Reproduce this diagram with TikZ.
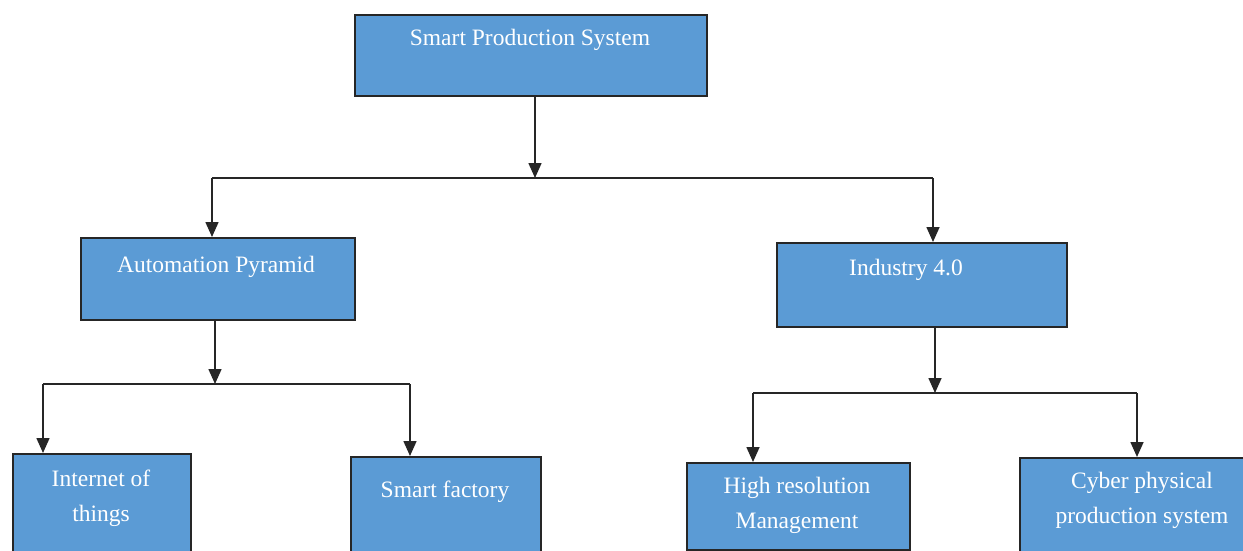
\documentclass[tikz,border=0pt]{standalone}
\usepackage{fontspec}
\setmainfont{Liberation Serif}
\usetikzlibrary{arrows.meta,calc}
\definecolor{boxblue}{HTML}{5B9BD5}
\begin{document}
\begin{tikzpicture}[x=1pt,y=-1pt,
  box/.style={draw=black!85,line width=1.8pt,fill=boxblue,rectangle,inner sep=0pt},
  txt/.style={text=white,align=center,font=\fontsize{23.5}{35}\selectfont,inner sep=0pt},
  link/.style={draw=black!85,line width=1.6pt},
  arr/.style={link,-{Triangle[length=15pt,width=13pt]}}]
\useasboundingbox (0,0) rectangle (1243,551);
\clip (0,0) rectangle (1243,551);
% boxes
\node[box,minimum width=352pt,minimum height=81pt,anchor=north west] (top) at (354,14) {};
\node[txt] (toptxt) at (530,40) {Smart Production System};
\node[box,minimum width=274pt,minimum height=82pt,anchor=north west] (auto) at (80,237) {};
\node[txt] (autotxt) at (216,267) {Automation Pyramid};
\node[box,minimum width=290pt,minimum height=84pt,anchor=north west] (ind) at (776,242) {};
\node[txt] (indtxt) at (906,270) {Industry 4.0};
\node[box,minimum width=178pt,minimum height=110pt,anchor=north west] (iot) at (12,453) {};
\node[txt] (iottxt) at (101,498) {Internet of\\things};
\node[box,minimum width=190pt,minimum height=110pt,anchor=north west] (sf) at (350,456) {};
\node[txt] (sftxt) at (445,492) {Smart factory};
\node[box,minimum width=223pt,minimum height=87pt,anchor=north west] (hrm) at (686,462) {};
\node[txt] (hrmtxt) at (797,505) {High resolution\\Management};
\node[box,minimum width=235pt,minimum height=110pt,anchor=north west] (cps) at (1019,457) {};
\node[txt] (cpstxt) at (1142,500) {Cyber physical\\production system};
% junctions
\coordinate (j1) at (535,178);
\coordinate (j1l) at (212,178);
\coordinate (j1r) at (933,178);
\coordinate (j2) at (215,384);
\coordinate (j2l) at (43,384);
\coordinate (j2r) at (410,384);
\coordinate (j3) at (935,393);
\coordinate (j3l) at (753,393);
\coordinate (j3r) at (1137,393);
% connectors
\draw[arr] (top.south -| j1) -- (j1);
\draw[link] (j1l) -- (j1r);
\draw[arr] (j1l) -- (j1l |- auto.north);
\draw[arr] (j1r) -- (j1r |- ind.north);
\draw[arr] (auto.south -| j2) -- (j2);
\draw[link] (j2l) -- (j2r);
\draw[arr] (j2l) -- (j2l |- iot.north);
\draw[arr] (j2r) -- (j2r |- sf.north);
\draw[arr] (ind.south -| j3) -- (j3);
\draw[link] (j3l) -- (j3r);
\draw[arr] (j3l) -- (j3l |- hrm.north);
\draw[arr] (j3r) -- (j3r |- cps.north);
\end{tikzpicture}
\end{document}
